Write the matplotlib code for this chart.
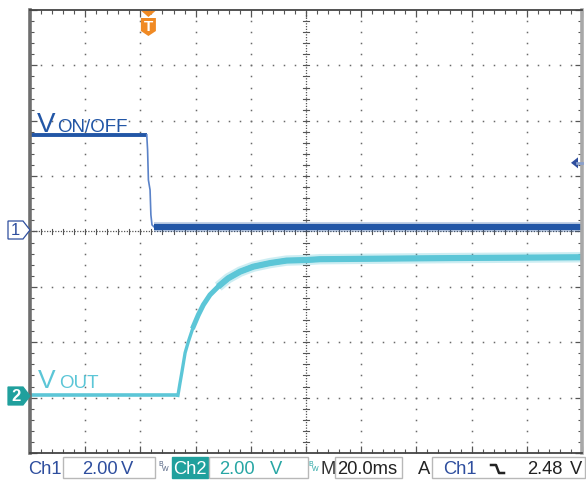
import matplotlib
matplotlib.use('Agg')
import matplotlib.pyplot as plt
import numpy as np
from matplotlib.patches import Polygon, Rectangle
from matplotlib.lines import Line2D

W, H = 586, 480

# ---- scope settings ----
ch1_scale = 2.0      # V/div
ch2_scale = 2.0      # V/div
time_scale = 20.0    # ms/div
ch1_offset_div = 0.0
ch2_offset_div = -3.0
trigger_time = 42.9  # ms from left edge of screen
trigger_level = 2.48 # V (ch1)

# ---- Ch1: V_ON/OFF (ms from left edge, volts) ----
ch1_t = [0.0, 42.3, 42.6, 42.9, 43.5, 43.8, 44.2, 44.9, 200.0]
ch1_v = [3.49, 3.49, 2.95, 1.86, 1.50, 0.60, 0.24, 0.17, 0.17]

# ---- Ch2: V_OUT ----
ch2_t = [0.0, 53.6, 54.3, 55.0, 56.2, 57.4, 59.2, 61.0, 62.8, 65.2, 68.2,
         71.8, 76.1, 80.9, 87.0, 93.0, 100.3, 105.1, 152.2, 200.0]
ch2_v = [0.08, 0.08, 0.50, 0.90, 1.62, 2.03, 2.57, 2.99, 3.35, 3.71, 4.01,
         4.31, 4.55, 4.73, 4.86, 4.95, 4.97, 5.00, 5.04, 5.07]

# ---- status bar text ----
ch1_label = "Ch1"
ch1_volts = "2.00"
ch2_label = "Ch2"
ch2_volts = "2.00"
time_label = "20.0ms"
trig_src = "Ch1"
trig_volts = "2.48"

C1 = "#2256a6"
C1T = "#2e4e9e"
C2 = "#5cc6d7"
C2T = "#27a6a4"
TEAL = "#20a09d"
ORANGE = "#f08a24"
GRID = "#6a6a6a"

fig = plt.figure(figsize=(W / 100, H / 100), dpi=100)
L, T, R, B = 30, 10, 582, 453
ax = fig.add_axes([L / W, 1 - B / H, (R - L) / W, (B - T) / H])
ax.set_xlim(0, 10)
ax.set_ylim(-4, 4)


def fp(x, y):
    return (x / W, 1 - y / H)


# ---- graticule ----
minor = np.round(np.arange(0, 10.001, 0.2), 3)
minor_y = np.round(np.arange(-4, 4.001, 0.2), 3)
for k in range(1, 10):
    if k == 5:
        continue
    ys = minor_y[1:-1]
    ax.plot(np.full(len(ys), k), ys, ls='none', marker='s', ms=1.1,
            mec='none', mfc=GRID)
for m in range(-3, 4):
    if m == 0:
        continue
    xs = minor[1:-1]
    ax.plot(xs, np.full(len(xs), m), ls='none', marker='s', ms=1.1,
            mec='none', mfc=GRID)

# center crosshair with ticks
ax.plot([5, 5], [-4, 4], color='#555555', lw=0.9, ls=(0, (1, 1.2)))
ax.plot([0, 10], [0, 0], color='#555555', lw=0.9, ls=(0, (1, 1.2)))
for y in minor_y[1:-1]:
    ax.plot([4.95, 5.05], [y, y], color='#555555', lw=0.8)
for x in minor[1:-1]:
    ax.plot([x, x], [-0.05, 0.05], color='#555555', lw=0.8)

# border ticks
ax.set_xticks(np.arange(0, 10.001, 1))
ax.set_yticks(np.arange(-4, 4.001, 1))
ax.set_xticks(minor, minor=True)
ax.set_yticks(minor_y, minor=True)
ax.tick_params(which='both', direction='in', top=True, right=True,
               labelbottom=False, labelleft=False, color='#555555')
ax.tick_params(which='major', length=5, width=0.9)
ax.tick_params(which='minor', length=3, width=0.8)
for s in ['top', 'bottom']:
    ax.spines[s].set_color('#444444')
    ax.spines[s].set_linewidth(1.3)
ax.spines['left'].set_color('#6e6e6e')
ax.spines['left'].set_linewidth(2.6)
ax.spines['right'].set_color('#a8a8a8')
ax.spines['right'].set_linewidth(2.6)

# ---- traces ----
x1 = np.array(ch1_t) / time_scale
y1 = np.array(ch1_v) / ch1_scale + ch1_offset_div
x2 = np.array(ch2_t) / time_scale
y2 = np.array(ch2_v) / ch2_scale + ch2_offset_div

# ch1
ax.plot(x1[:2], y1[:2], color=C1, lw=2.8, solid_capstyle='butt')
ax.plot(x1[1:8], y1[1:8], color='#5a82c8', lw=1.2)
ax.plot(x1[7:], y1[7:], color=C1, lw=7.0, alpha=0.3, solid_capstyle='butt')
ax.plot(x1[7:], y1[7:], color=C1, lw=4.4, solid_capstyle='butt')

# ch2
ax.plot(x2[:2], y2[:2], color=C2, lw=2.6, solid_capstyle='butt')
ax.plot(x2[1:], y2[1:], color=C2, lw=2.4)
ax.plot(x2[6:], y2[6:], color=C2, lw=3.6)
ax.plot(x2[10:], y2[10:], color=C2, lw=7.5, alpha=0.3, solid_capstyle='butt')
ax.plot(x2[10:], y2[10:], color=C2, lw=4.4, solid_capstyle='butt')

# ---- signal labels ----
fig.text(*fp(37, 132), "V", color=C1, fontsize=20, family='Liberation Sans',
         va='baseline')
fig.text(*fp(57, 132), "ON/OFF", color=C1, fontsize=13.5,
         family='Liberation Sans', va='baseline')
fig.text(*fp(38, 388), "V", color=C2, fontsize=19, family='Liberation Sans',
         va='baseline')
fig.text(*fp(59, 388), "OUT", color=C2, fontsize=13.5,
         family='Liberation Sans', va='baseline')

# ---- channel markers ----
m1 = [fp(8, 221), fp(23, 221), fp(30, 230), fp(23, 239), fp(8, 239)]
fig.patches.append(Polygon(m1, closed=True, transform=fig.transFigure,
                           facecolor='white', edgecolor=C1T, lw=0.9))
fig.text(*fp(15.5, 230.5), "1", color=C1T, fontsize=12, ha='center',
         va='center', family='Liberation Sans')
m2 = [fp(8, 387), fp(23, 387), fp(30, 396), fp(23, 405), fp(8, 405)]
fig.patches.append(Polygon(m2, closed=True, transform=fig.transFigure,
                           facecolor=TEAL, edgecolor=TEAL, lw=0.9))
fig.text(*fp(15.5, 396.5), "2", color='white', fontsize=12, ha='center',
         va='center', family='Liberation Sans', weight='bold')

# trigger position marker (top)
tx = L + trigger_time / time_scale * (R - L) / 10
tri = [fp(tx - 7, 11), fp(tx + 7, 11), fp(tx, 17)]
fig.patches.append(Polygon(tri, closed=True, transform=fig.transFigure,
                           facecolor=ORANGE, edgecolor='none'))
shield = [fp(tx - 7.5, 18), fp(tx + 7.5, 18), fp(tx + 7.5, 31), fp(tx, 36),
          fp(tx - 7.5, 31)]
fig.patches.append(Polygon(shield, closed=True, transform=fig.transFigure,
                           facecolor=ORANGE, edgecolor='none'))
fig.text(*fp(tx, 27), "T", color='white', fontsize=11, ha='center',
         va='center', family='Liberation Sans', weight='bold')

# trigger level marker (right)
ty = (T + B) / 2 - (trigger_level / ch1_scale + ch1_offset_div) * (B - T) / 8
arr = [fp(571, ty), fp(578, ty - 5.5), fp(578, ty + 5.5)]
fig.patches.append(Polygon(arr, closed=True, transform=fig.transFigure,
                           facecolor=C1T, edgecolor='none'))
fig.lines.append(Line2D([577 / W, 582 / W], [1 - ty / H, 1 - ty / H],
                        transform=fig.transFigure, color='#8aa0cc', lw=2))

# ---- status bar ----
FS = 13.2
FAM = 'Liberation Sans'


def box(x0, x1, face='white', edge='#b8b8b8'):
    fig.patches.append(Rectangle(fp(x0, 478), (x1 - x0) / W, 21 / H,
                                 transform=fig.transFigure, facecolor=face,
                                 edgecolor=edge, lw=1.0))


def txt(x, s, color, size=FS, **kw):
    fig.text(*fp(x, 474), s, color=color, fontsize=size, family=FAM,
             va='baseline', **kw)


def bw(x, color):
    fig.text(*fp(x, 466), "B", color=color, fontsize=5.0, family=FAM,
             va='baseline')
    fig.text(*fp(x + 3.5, 471), "W", color=color, fontsize=5.0, family=FAM,
             va='baseline')


txt(28, ch1_label, C1T)
box(63, 155)
txt(82, ch1_volts, C1T)
txt(121, "V", C1T)
bw(158, '#506080')
box(172, 208, face=TEAL, edge=TEAL)
txt(173, ch2_label, 'white')
box(209, 308)
txt(219, ch2_volts, C2T)
txt(270, "V", C2T)
bw(308.5, C2T)
txt(320, "M", '#333333')
box(335, 402)
txt(337, time_label, '#222222')
txt(418, "A", '#222222')
box(432, 585)
txt(443, trig_src, C1T)
fig.lines.append(Line2D([491 / W, 496 / W, 499 / W, 504 / W],
                        [1 - 465 / H, 1 - 465 / H, 1 - 473 / H, 1 - 473 / H],
                        transform=fig.transFigure, color='#222222', lw=1.8))
txt(527, trig_volts, '#222222')
txt(570, "V", '#222222')

fig.savefig("out.png", dpi=100)
